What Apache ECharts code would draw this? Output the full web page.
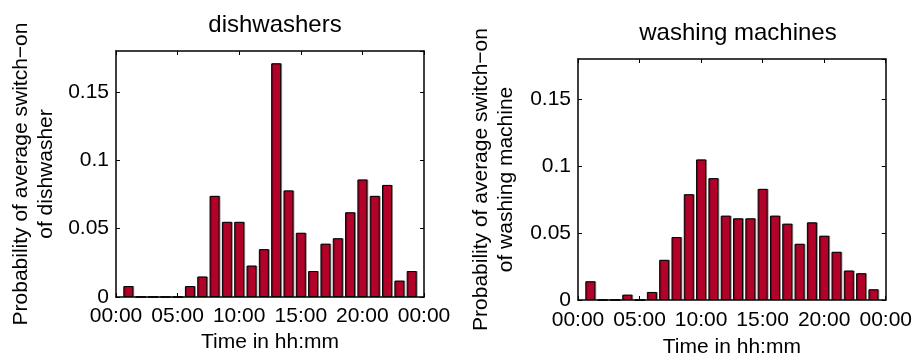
<!DOCTYPE html>
<html>
<head>
<meta charset="utf-8">
<script src="https://cdn.jsdelivr.net/npm/echarts@6/dist/echarts.min.js"></script>
<style>
  html, body { margin: 0; padding: 0; background: #fff; }
  #chart { width: 915px; height: 363px; }
</style>
</head>
<body>
<div id="chart"></div>
<script>
// hour of day for each bar (1..24)
var hours = [1, 2, 3, 4, 5, 6, 7, 8, 9, 10, 11, 12, 13, 14, 15, 16, 17, 18, 19, 20, 21, 22, 23, 24];
var xTickLabels = ['00:00', '05:00', '10:00', '15:00', '20:00', '00:00'];
var yTickLabels = ['0', '0.05', '0.1', '0.15'];

// probability of switch-on per hour
var dishwashers = [0.008, 0, 0, 0, 0, 0.008, 0.015, 0.074, 0.055, 0.055, 0.023, 0.035,
                   0.171, 0.078, 0.047, 0.019, 0.039, 0.043, 0.062, 0.086, 0.074, 0.082, 0.012, 0.019];
var washingMachines = [0.014, 0, 0, 0.004, 0, 0.006, 0.030, 0.047, 0.079, 0.105, 0.091, 0.063,
                       0.061, 0.061, 0.083, 0.063, 0.057, 0.042, 0.058, 0.048, 0.036, 0.022, 0.020, 0.008];

var FONT = 'Liberation Sans, Arial, Helvetica, sans-serif';
var BAR_COLOR = '#b2022a';

function pairs(vals) {
    return hours.map(function (h, i) { return [h, vals[i]]; });
}

// bottom + top x axes, left + right y axes (matlab style box)
function xAxes(gridIndex, labelMargin, nameGap) {
    return [{
        gridIndex: gridIndex, type: 'value', min: 0, max: 25, interval: 5,
        name: 'Time in hh:mm', nameLocation: 'middle', nameGap: nameGap,
        nameTextStyle: { fontFamily: FONT, fontSize: 21, color: '#000' },
        axisLine: { onZero: false, lineStyle: { color: '#000', width: 1.5 } },
        axisTick: { inside: true, length: 4, lineStyle: { color: '#000' } },
        axisLabel: {
            fontFamily: FONT, fontSize: 21, color: '#000', margin: labelMargin,
            formatter: function (v) { return xTickLabels[Math.round(v / 5)] || ''; }
        },
        splitLine: { show: false }
    }, {
        gridIndex: gridIndex, type: 'value', position: 'top', min: 0, max: 25, interval: 5,
        axisLine: { onZero: false, lineStyle: { color: '#000', width: 1.5 } },
        axisTick: { inside: true, length: 4, lineStyle: { color: '#000' } },
        axisLabel: { show: false },
        splitLine: { show: false }
    }];
}

function yAxes(gridIndex, name, nameGap) {
    return [{
        gridIndex: gridIndex, type: 'value', min: 0, max: 0.18, interval: 0.05,
        name: name, nameLocation: 'middle', nameGap: nameGap, nameRotate: 90,
        nameTextStyle: { fontFamily: FONT, fontSize: 21, color: '#000', lineHeight: 25 },
        axisLine: { show: true, onZero: false, lineStyle: { color: '#000', width: 1.5 } },
        axisTick: { show: true, inside: true, length: 4, lineStyle: { color: '#000' } },
        axisLabel: {
            fontFamily: FONT, fontSize: 21, color: '#000', margin: 7, showMaxLabel: false,
            formatter: function (v) { return yTickLabels[Math.round(v / 0.05)] || ''; }
        },
        splitLine: { show: false }
    }, {
        gridIndex: gridIndex, type: 'value', position: 'right', min: 0, max: 0.18, interval: 0.05,
        axisLine: { show: true, onZero: false, lineStyle: { color: '#000', width: 1.5 } },
        axisTick: { show: true, inside: true, length: 4, lineStyle: { color: '#000' } },
        axisLabel: { show: false },
        splitLine: { show: false }
    }];
}

function barSeries(xi, yi, vals) {
    return {
        type: 'bar', xAxisIndex: xi, yAxisIndex: yi, data: pairs(vals),
        barWidth: 10, silent: true,
        itemStyle: {
            color: BAR_COLOR, borderColor: '#000', borderWidth: 1,
            shadowColor: 'rgba(0,0,0,0.35)', shadowOffsetX: 1, shadowOffsetY: 0
        }
    };
}

var myChart = echarts.init(document.getElementById('chart'));

var option = {
    backgroundColor: '#fff',
    animation: false,
    title: [
        { text: 'dishwashers', left: 275, top: 13, textAlign: 'center', padding: 0,
          textStyle: { fontFamily: FONT, fontSize: 24, fontWeight: 'normal', color: '#000' } },
        { text: 'washing machines', left: 738, top: 21, textAlign: 'center', padding: 0,
          textStyle: { fontFamily: FONT, fontSize: 24, fontWeight: 'normal', color: '#000' } }
    ],
    grid: [
        { left: 116, top: 51, width: 308, height: 246 },
        { left: 578, top: 59, width: 308, height: 245 }
    ],
    xAxis: xAxes(0, 9, 35).concat(xAxes(1, 10, 37)),
    yAxis: yAxes(0, 'Probability of average switch\u2212on\nof dishwasher', 57)
        .concat(yAxes(1, 'Probability of average switch\u2212on\nof washing machine', 59)),
    series: [
        barSeries(0, 0, dishwashers),
        barSeries(2, 2, washingMachines)
    ]
};

myChart.setOption(option);
</script>
</body>
</html>
